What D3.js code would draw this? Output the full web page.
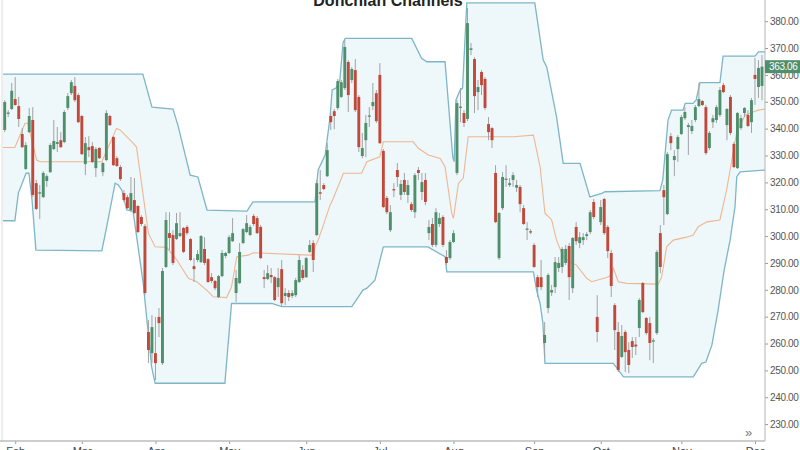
<!DOCTYPE html>
<html><head><meta charset="utf-8">
<script src="https://cdn.jsdelivr.net/npm/d3@7"></script>
<style>body{margin:0;background:#fff;} svg{display:block;font-family:"Liberation Sans",Arial,sans-serif;}</style>
</head><body><svg id="c" width="800" height="450"></svg>
<script>
// ---- data (trading-day index 0..216) ----
const openP=[339.5,345.5,347.3,351.0,348.4,338.0,325.0,338.7,343.2,319.7,
315.8,314.5,320.5,323.8,332.4,334.3,335.7,335.0,347.7,353.2,
355.9,352.5,344.7,326.8,333.1,333.5,325.3,332.8,323.8,328.3,
344.7,336.9,329.0,325.7,316.0,314.5,309.7,313.4,311.2,307.1,
303.7,264.3,256.4,256.4,269.9,252.7,288.5,301.1,300.4,298.9,
300.0,303.0,303.4,298.9,288.8,291.1,290.3,295.2,291.4,284.7,
283.3,277.3,285.1,292.6,293.7,298.1,278.8,282.5,297.4,301.5,
300.4,307.5,306.7,303.4,284.7,284.0,285.5,284.7,281.0,287.7,
277.7,278.8,277.7,278.0,282.9,287.4,284.7,294.1,297.4,300.4,
316.3,319.0,322.3,344.7,346.5,347.7,351.8,355.1,364.8,358.1,
361.8,351.8,329.8,335.7,344.5,348.4,353.2,360.0,331.7,314.2,
302.2,317.5,324.6,315.3,320.9,315.3,311.9,308.9,324.6,316.4,
320.9,301.1,304.5,296.7,304.5,307.1,292.2,291.8,297.8,323.5,
347.7,345.8,343.6,369.3,365.9,353.6,361.1,358.5,341.7,340.2,
323.5,291.8,310.4,321.0,319.0,320.9,318.0,318.3,310.4,302.4,
301.8,296.7,284.7,284.7,260.2,273.2,279.0,281.0,288.1,288.5,
290.0,296.3,280.6,303.4,297.4,298.5,300.0,301.5,312.7,269.9,
305.2,313.8,303.4,293.7,274.3,264.3,255.0,264.3,257.6,260.9,
259.6,265.8,282.5,269.5,267.6,260.7,263.9,301.1,317.1,308.2,
337.2,328.3,332.4,338.0,343.9,340.6,339.1,343.2,348.4,350.3,
348.0,332.8,342.4,343.2,345.1,356.2,341.3,351.8,334.3,325.3,
340.2,345.8,345.1,342.4,360.0,355.5,355.9];
const highP=[350.6,346.9,357.0,359.2,351.8,340.2,335.0,347.7,348.0,320.9,
319.0,324.2,323.0,334.6,343.2,340.6,338.7,346.9,353.2,358.1,
359.2,353.2,345.1,336.9,337.2,335.0,333.1,333.1,327.6,346.9,
345.1,337.2,329.8,326.4,317.1,315.3,322.0,321.6,311.5,307.8,
304.5,268.7,270.6,269.9,273.2,288.1,308.9,308.9,302.2,308.6,
308.9,303.4,304.1,299.3,291.8,294.8,300.4,299.6,291.8,286.2,
283.6,285.5,294.8,294.1,300.4,306.7,287.4,297.4,303.0,307.8,
304.1,308.2,307.5,304.1,287.4,289.2,288.1,285.1,288.1,291.1,
280.6,279.9,279.9,284.4,292.9,289.2,292.2,298.5,298.5,320.9,
324.6,319.7,334.6,345.8,347.3,358.5,358.1,373.0,365.5,362.9,
365.9,352.5,338.4,345.1,348.0,357.0,354.4,364.4,332.4,314.9,
311.5,319.7,327.2,320.9,323.5,320.9,312.7,323.5,325.7,323.5,
323.5,306.0,306.7,310.4,308.6,307.8,294.8,298.5,302.2,350.6,
355.1,346.9,384.9,371.9,366.6,358.1,361.8,359.2,344.3,340.6,
326.4,308.9,323.8,326.4,321.6,323.8,320.9,319.0,311.5,305.2,
302.6,297.4,285.5,291.1,268.0,286.2,281.8,292.2,292.2,295.9,
296.7,297.4,299.6,305.2,301.5,301.1,301.5,309.7,313.8,278.0,
313.4,314.2,304.1,294.8,275.0,268.0,266.9,265.0,260.5,262.4,
262.4,276.9,282.9,269.9,269.9,262.0,294.8,304.1,319.0,331.3,
338.4,332.0,337.6,345.1,348.0,342.1,343.2,348.8,357.0,350.6,
348.8,339.1,345.1,348.8,355.5,357.0,347.7,352.5,335.0,346.2,
345.1,348.0,346.9,351.4,366.3,365.5,367.4];
const lowP=[338.7,344.3,346.9,348.5,340.6,332.8,324.6,338.4,314.5,309.7,
306.3,314.2,318.3,323.5,332.0,331.3,332.8,334.6,346.9,352.5,
349.9,342.1,330.2,322.7,329.4,327.2,322.0,328.7,322.3,327.9,
341.0,326.1,325.7,320.5,312.7,310.1,308.9,308.2,301.1,303.7,
278.0,252.7,252.7,246.4,262.4,252.0,288.1,294.8,289.2,298.5,
299.6,293.7,300.4,290.7,282.9,290.3,290.0,289.2,282.5,282.5,
279.9,276.9,284.7,291.8,293.3,297.8,275.4,282.1,297.0,301.1,
300.0,303.7,300.7,291.4,280.6,283.6,282.5,275.8,277.3,273.6,
274.3,275.8,276.9,277.3,282.5,283.6,284.4,293.7,286.6,300.0,
313.4,317.1,322.0,339.5,339.8,346.9,351.4,354.4,346.2,357.0,
346.2,331.3,329.0,329.4,340.6,346.9,342.1,334.3,310.4,308.2,
301.5,314.5,318.3,313.4,315.3,312.3,309.0,306.7,320.9,313.4,
311.5,298.5,295.9,295.9,303.4,295.9,289.2,291.1,297.4,322.7,
342.4,340.6,342.8,367.4,345.8,346.9,352.5,346.9,335.7,332.8,
304.8,291.1,309.7,318.3,318.3,318.3,316.4,308.9,304.1,298.5,
300.7,288.1,277.3,279.9,255.0,271.3,277.7,278.8,286.6,286.2,
289.2,276.2,278.8,296.7,295.5,296.7,298.5,300.7,306.3,260.5,
304.1,300.4,291.8,277.3,257.6,249.4,254.6,249.4,249.0,254.6,
255.7,262.4,271.3,263.2,253.8,252.7,263.2,286.2,304.1,307.8,
332.0,322.3,327.6,337.6,343.2,330.2,338.0,342.4,348.0,348.4,
330.2,332.0,340.2,342.1,344.3,353.2,335.7,337.6,325.3,325.0,
339.5,344.3,340.6,338.4,348.8,351.4,350.6];
const closeP=[349.9,346.0,354.1,348.8,343.6,333.1,333.9,344.7,315.3,310.1,
316.3,323.5,322.3,333.9,335.4,335.0,333.1,346.2,352.1,357.3,
350.6,342.4,330.5,334.6,332.0,327.6,332.4,329.0,327.2,345.8,
341.3,326.4,326.1,321.2,313.4,310.4,316.0,308.6,301.5,304.5,
278.8,257.6,266.1,252.7,267.6,287.0,306.0,299.3,290.0,304.8,
301.1,294.1,301.1,291.1,287.7,293.3,300.0,290.0,282.9,283.3,
280.6,285.1,293.7,293.7,299.6,301.1,284.4,294.1,302.6,304.8,
303.4,304.5,301.1,291.8,284.0,286.2,284.7,276.2,284.4,275.0,
278.8,277.3,278.8,283.6,291.1,284.4,291.8,296.7,291.1,319.7,
315.8,317.5,332.0,342.4,344.7,357.7,357.3,370.4,352.5,362.2,
346.9,333.1,332.8,342.1,344.9,349.9,342.8,334.6,310.8,308.9,
308.9,317.1,322.0,319.4,316.4,319.0,309.7,322.7,323.5,320.1,
312.7,303.4,296.7,308.9,306.7,296.7,290.0,297.8,301.1,349.5,
348.2,342.1,379.3,369.9,352.1,355.5,356.2,347.7,338.7,335.7,
305.2,308.6,322.0,321.4,319.7,322.7,319.0,311.9,304.5,302.8,
301.5,288.5,281.0,281.0,263.2,285.5,279.9,290.3,290.0,295.2,
295.2,284.7,299.3,298.1,299.6,299.6,300.7,308.9,307.1,264.3,
310.8,301.1,294.4,281.4,265.0,250.1,262.8,256.8,252.0,258.7,
258.9,276.2,271.7,263.9,260.2,261.2,294.1,288.5,314.5,330.5,
334.6,329.8,336.9,344.3,346.2,341.3,341.0,348.0,351.0,348.8,
330.9,338.4,343.9,348.0,354.4,353.6,347.3,338.4,325.7,345.8,
343.9,347.7,341.0,350.6,358.5,362.6,363.06];

// Donchian channel vertices (day index, price)
const upperIdx=[-0.5,39.4,42.0,48.0,49.4,52.9,55.1,57.7,69.1,70.8,88.5,89.4,91.4,92.8,93.4,94.5,95.6,96.5,97.1,116.1,118.9,120.4,125.6,127.8,128.2,128.7,129.9,130.6,131.8,151.2,153.6,154.6,157.4,159.3,164.1,166.9,170.3,171.2,186.9,187.7,189.2,190.2,193.5,194.1,196.3,197.2,198.3,204.0,204.9,214.0,215.0,217.0];
const upperVal=[360.3,360.3,348.0,347.3,341.3,322.7,322.0,309.7,309.3,312.7,312.7,324.6,330.2,344.3,354.4,355.1,358.1,371.9,373.6,373.6,366.2,364.9,364.9,329.4,327.7,350.6,354.4,355.1,386.8,386.8,365.5,363.0,344.4,327.1,327.1,314.6,315.9,316.5,316.9,320.9,343.2,346.9,346.9,349.4,349.4,350.6,357.1,357.1,367.0,367.0,368.6,368.6];
const lowerIdx=[-0.5,2.9,3.9,6.1,6.9,7.8,8.9,27.7,28.9,31.5,32.4,33.4,34.8,36.6,39.5,41.9,42.9,62.8,64.7,76.2,79.0,99.0,102.2,103.3,105.6,108.0,120.7,125.6,126.1,150.8,151.7,152.7,153.5,154.1,173.6,176.5,196.4,198.8,200.0,201.7,203.5,205.2,206.9,208.3,208.8,209.8,217.0];
const lowerVal=[305.7,305.7,316.0,323.4,323.4,313.4,294.8,294.5,302.2,319.7,319.0,317.1,309.7,309.3,282.5,251.3,245.2,245.2,274.9,274.9,273.7,273.7,279.9,280.6,283.6,296.0,296.0,292.3,286.7,286.7,279.9,274.9,267.6,252.6,252.6,247.6,247.6,252.6,253.1,259.4,272.5,287.3,298.5,310.9,322.1,323.9,324.6];
const midIdx=[-0.5,2.9,5.8,6.6,9.1,10.1,27.7,31.9,32.9,36.7,37.6,41.0,42.9,46.2,49.1,52.4,54.8,57.6,59.5,63.3,64.7,66.2,69.5,70.9,87.1,88.0,88.5,89.4,90.4,92.8,93.7,96.6,101.8,103.3,107.0,108.0,116.5,118.0,120.8,124.2,125.6,127.5,128.0,129.4,130.8,132.2,145.1,150.8,152.7,154.1,156.0,157.4,159.3,161.2,163.1,166.0,167.4,171.7,173.1,173.6,175.0,177.4,186.4,187.4,188.8,190.7,194.5,196.4,197.8,200.3,204.0,205.9,206.9,208.8,211.2,215.0,217.0];
const midVal=[333.0,333.0,342.0,342.0,328.3,327.7,327.7,340.1,339.5,334.5,333.1,301.0,296.0,295.8,291.1,284.3,283.0,279.9,277.4,277.1,281.1,292.3,292.9,293.8,292.9,292.9,296.0,298.5,302.2,311.5,314.0,323.4,323.4,327.7,329.5,335.1,335.1,332.7,330.2,328.9,325.8,308.5,306.6,319.6,321.6,337.0,337.0,337.6,325.8,308.5,306.0,298.5,292.3,290.3,289.2,284.3,283.0,284.6,285.5,288.1,283.0,282.4,282.1,284.9,296.0,298.5,299.6,300.4,303.5,305.3,306.0,317.1,324.6,338.8,345.1,346.9,347.3];

const monthLabels=["Feb","Mar","Apr","May","Jun","Jul","Aug","Sep","Oct","Nov","Dec"];
const monthIdx=[3,22,43,64,86,107,128,151,170,193,214];
const yTicks=[230,240,250,260,270,280,290,300,310,320,330,340,350,360,370,380];
const lastPrice=363.06;
const titleText="Donchian Channels";

// ---- drawing ----
const svg=d3.select("#c");
const plotL=2, plotR=765, plotT=0, plotB=441;
const x=d3.scaleLinear().domain([0,216]).range([4.7,762]);
const y=d3.scaleLinear().domain([230,380]).range([424.1,21.2]);
const green="#4f8f6c", red="#c0493b";
const axisFont="'Liberation Sans',Arial,sans-serif";

svg.append("defs").append("clipPath").attr("id","clip")
  .append("rect").attr("x",plotL).attr("y",plotT).attr("width",plotR-plotL).attr("height",plotB-plotT);
const g=svg.append("g").attr("clip-path","url(#clip)");

const upper=upperIdx.map((d,i)=>[d,upperVal[i]]);
const lower=lowerIdx.map((d,i)=>[d,lowerVal[i]]);
const mid=midIdx.map((d,i)=>[d,midVal[i]]);
const line=d3.line().x(d=>x(d[0])).y(d=>y(d[1]));

// channel fill
g.append("path").attr("d",line(upper.concat(lower.slice().reverse()))+"Z")
  .attr("fill","#eef7fa").attr("stroke","none");
g.append("path").attr("d",line(upper)).attr("fill","none").attr("stroke","#7db6c7").attr("stroke-width",1.3);
g.append("path").attr("d",line(lower)).attr("fill","none").attr("stroke","#7db6c7").attr("stroke-width",1.3);
g.append("path").attr("d",line(mid)).attr("fill","none").attr("stroke","#efb791").attr("stroke-width",1.1);

// candles
const idx=d3.range(openP.length);
g.selectAll("line.w").data(idx).join("line").attr("class","w")
  .attr("x1",i=>x(i)).attr("x2",i=>x(i))
  .attr("y1",i=>y(highP[i])).attr("y2",i=>y(lowP[i]))
  .attr("stroke","#a3a3a3").attr("stroke-width",1);
g.selectAll("rect.b").data(idx).join("rect").attr("class","b")
  .attr("x",i=>x(i)-1.45).attr("width",2.9)
  .attr("y",i=>y(Math.max(openP[i],closeP[i])))
  .attr("height",i=>Math.max(1.3,Math.abs(y(openP[i])-y(closeP[i]))))
  .attr("fill",i=>closeP[i]>=openP[i]?green:red);

// left border
svg.append("line").attr("x1",plotL).attr("x2",plotL).attr("y1",0).attr("y2",plotB).attr("stroke","#dcdcdc");

// right axis
const ax=svg.append("g").attr("transform",`translate(${plotR},0)`)
  .call(d3.axisRight(y).tickValues(yTicks).tickSize(3).tickPadding(2).tickFormat(d3.format(".2f")));
ax.select(".domain").remove();
ax.selectAll("text").attr("fill","#555").style("font-size","10px").style("letter-spacing","-0.35px").style("font-family",axisFont);
ax.selectAll("line").attr("stroke","#999");
svg.append("line").attr("x1",plotR).attr("x2",plotR).attr("y1",0).attr("y2",plotB).attr("stroke","#b5b5b5");

// bottom axis
const bx=svg.append("g").attr("transform",`translate(0,${plotB})`)
  .call(d3.axisBottom(x).tickValues(monthIdx).tickSize(3).tickPadding(3).tickFormat((d,i)=>monthLabels[i]));
bx.select(".domain").remove();
bx.selectAll("text").attr("fill","#444").style("font-size","11px").style("font-family",axisFont);
bx.selectAll("line").attr("stroke","#999");
svg.append("line").attr("x1",0).attr("x2",plotR).attr("y1",plotB).attr("y2",plotB).attr("stroke","#bdbdbd").attr("stroke-width",1.5);

// last price tag
const py=y(lastPrice);
svg.append("rect").attr("x",plotR).attr("y",py-6.5).attr("width",35).attr("height",13).attr("fill",green);
svg.append("text").attr("x",plotR+4).attr("y",py+3.5).text(d3.format(".2f")(lastPrice))
  .attr("fill","#fff").style("font-size","10px").style("letter-spacing","-0.35px").style("font-family",axisFont);

// scroll marker
svg.append("text").attr("x",745).attr("y",437).text("»").attr("fill","#777").style("font-size","13px");

// title
svg.append("text").attr("x",388).attr("y",6).attr("text-anchor","middle").text(titleText)
  .attr("fill","#222").style("font-size","16px").style("font-weight","bold");
</script></body></html>
